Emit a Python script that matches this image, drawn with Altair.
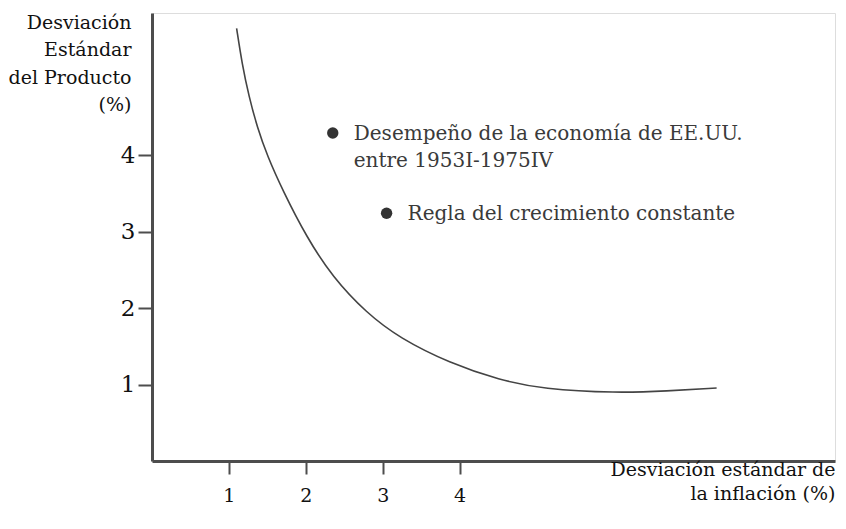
import altair as alt
import pandas as pd

# Curve (trade-off between output and inflation variability)
curve_x = [1.10, 1.17, 1.26, 1.37, 1.50, 1.698, 2.010, 2.348, 2.790, 3.219, 3.870, 4.520, 5.079, 6.041, 6.691, 7.341]
curve_y = [5.66, 5.20, 4.77, 4.36, 3.99, 3.542, 2.928, 2.405, 1.935, 1.608, 1.281, 1.059, 0.941, 0.889, 0.915, 0.954]

# Highlighted points
point_x = [2.35, 3.05]
point_y = [4.29, 3.24]
point_labels = ["Desempeño de la economía de EE.UU.\nentre 1953I-1975IV",
                "Regla del crecimiento constante"]

x_ticks = [1, 2, 3, 4]
y_ticks = [1, 2, 3, 4]
x_title = ["Desviación estándar de", "la inflación (%)"]
y_title = ["Desviación", "Estándar", "del Producto", "(%)"]

curve_df = pd.DataFrame({"x": curve_x, "y": curve_y})
pts_df = pd.DataFrame({"x": point_x, "y": point_y, "label": point_labels})

FONT = "DejaVu Serif"
AX = "#4d4d4d"

xs = alt.Scale(domain=[0, 8.88], nice=False, zero=False)
ys = alt.Scale(domain=[0, 5.86], nice=False, zero=False)

x_axis = alt.Axis(values=x_ticks, format="d", grid=False, domainColor=AX, domainWidth=3,
                  tickColor=AX, tickWidth=2, tickSize=13,
                  labelFont=FONT, labelFontSize=19, labelColor="#111", labelPadding=12,
                  title=x_title, titleFont=FONT, titleFontSize=19, titleFontWeight="normal",
                  titleColor="#111", titleAngle=0, titleAlign="right", titleBaseline="alphabetic",
                  titleX=683, titleY=14, titleLineHeight=24)
y_axis = alt.Axis(values=y_ticks, format="d", grid=False, domainColor=AX, domainWidth=3,
                  tickColor=AX, tickWidth=2, tickSize=14,
                  labelFont=FONT, labelFontSize=23, labelColor="#111", labelPadding=3,
                  title=y_title, titleFont=FONT, titleFontSize=19, titleFontWeight="normal",
                  titleColor="#111", titleAngle=0, titleAlign="right", titleBaseline="alphabetic",
                  titleX=-21, titleY=15, titleLineHeight=27.5)

curve = alt.Chart(curve_df).mark_line(color="#444", strokeWidth=1.6, interpolate="basis").encode(
    x=alt.X("x:Q", scale=xs, axis=x_axis),
    y=alt.Y("y:Q", scale=ys, axis=y_axis),
)

points = alt.Chart(pts_df).mark_point(filled=True, size=130, color="#333", opacity=1).encode(
    x=alt.X("x:Q", scale=xs),
    y=alt.Y("y:Q", scale=ys),
)

labels = alt.Chart(pts_df).mark_text(align="left", baseline="alphabetic", dx=21, dy=6.5,
                                     font=FONT, fontSize=20, color="#3a3a3a",
                                     lineBreak="\n", lineHeight=27).encode(
    x=alt.X("x:Q", scale=xs),
    y=alt.Y("y:Q", scale=ys),
    text="label:N",
)

chart = alt.layer(curve, points, labels).properties(
    width=683, height=448,
    padding={"left": 144, "top": 5, "right": 3, "bottom": 60},
    autosize="none",
).configure_view(stroke=None).configure(background="white")

chart.save("out.html", embed_options={"renderer": "svg", "actions": False})
